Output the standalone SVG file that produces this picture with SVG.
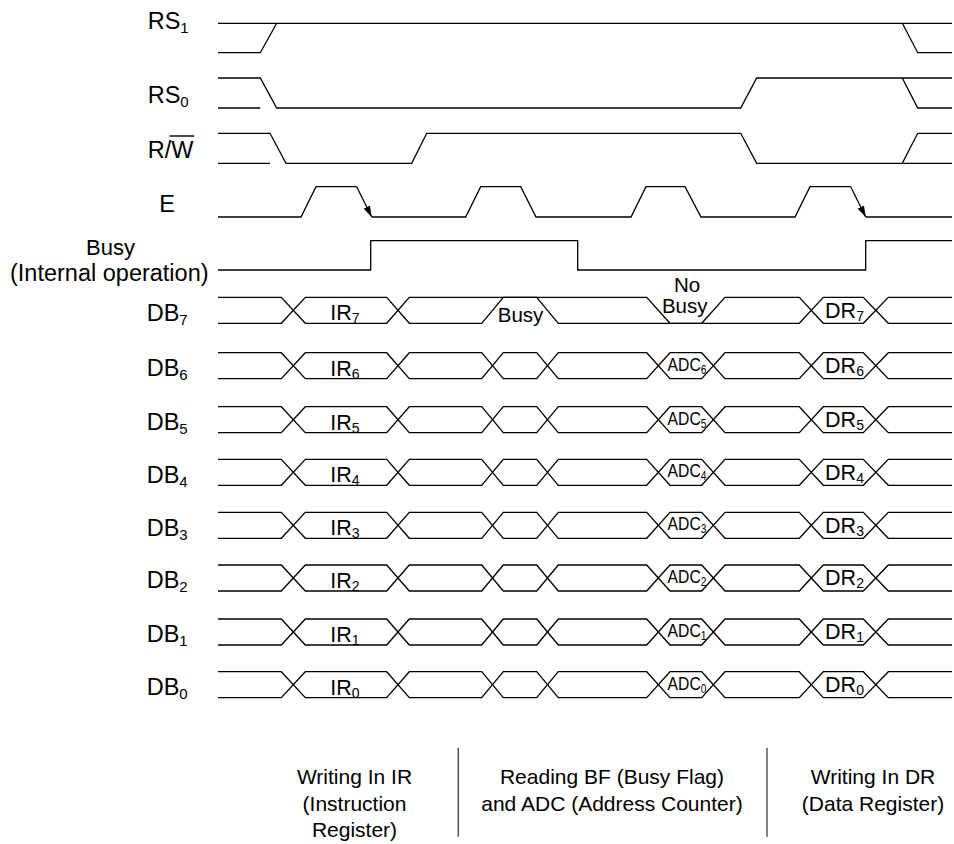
<svg xmlns="http://www.w3.org/2000/svg" xmlns:xlink="http://www.w3.org/1999/xlink" width="954" height="844" viewBox="0 0 954 844">
<style>
.w{fill:none;stroke:#000;stroke-width:1.3;stroke-linejoin:miter}
.lbl{font-family:"Liberation Sans",Arial,sans-serif;font-size:23.5px;fill:#000}
.sub{font-size:15px}
.in{font-family:"Liberation Sans",Arial,sans-serif;font-size:21.5px;fill:#000;text-anchor:middle}
.isub{font-size:14px}
.adc{font-family:"Liberation Sans",Arial,sans-serif;font-size:18.5px;fill:#000;text-anchor:middle}
.bt{font-family:"Liberation Sans",Arial,sans-serif;font-size:21px;fill:#000;text-anchor:middle}
.div{stroke:#555;stroke-width:1.5}
</style>
<defs>
<marker id="arr" viewBox="0 0 11 7" refX="11" refY="3.5" markerWidth="11" markerHeight="7" markerUnits="userSpaceOnUse" orient="auto" preserveAspectRatio="none">
<path d="M0,0 L11,3.5 L0,7 z" fill="#000"/>
</marker>
<g id="dbwave">
<path class="w" d="M218,0 H281.3 L305.3,26 H386.7 L409.3,0 H481.7 L503.3,26 H536.7 L558.3,0 H646.7 L670,26 H701.7 L725,0 H799.3 L823.3,26 H863.3 L888.3,0 H952"/>
<path class="w" d="M218,26 H281.3 L305.3,0 H386.7 L409.3,26 H481.7 L503.3,0 H536.7 L558.3,26 H646.7 L670,0 H701.7 L725,26 H799.3 L823.3,0 H863.3 L888.3,26 H952"/>
</g>
</defs>
<rect width="954" height="844" fill="#fff"/>

<g id="labels">
<text class="lbl" x="147.7" y="29.3">RS<tspan class="sub" dy="4">1</tspan></text>
<text class="lbl" x="147.7" y="102.7">RS<tspan class="sub" dy="4">0</tspan></text>
<text class="lbl" x="147.7" y="157.7">R/W</text>
<line x1="169.5" y1="136" x2="194.3" y2="136" stroke="#000" stroke-width="1.4"/>
<text class="lbl" x="159.3" y="211.7">E</text>
<text class="lbl" x="86" y="254.5" style="font-size:22px">Busy</text>
<text class="lbl" x="10" y="281">(Internal operation)</text>
<text class="lbl" x="146.7" y="320.7">DB<tspan class="sub" dy="4">7</tspan></text>
<text class="lbl" x="146.7" y="376.1">DB<tspan class="sub" dy="4">6</tspan></text>
<text class="lbl" x="146.7" y="430.1">DB<tspan class="sub" dy="4">5</tspan></text>
<text class="lbl" x="146.7" y="482.7">DB<tspan class="sub" dy="4">4</tspan></text>
<text class="lbl" x="146.7" y="535.7">DB<tspan class="sub" dy="4">3</tspan></text>
<text class="lbl" x="146.7" y="588.4">DB<tspan class="sub" dy="4">2</tspan></text>
<text class="lbl" x="146.7" y="642.4">DB<tspan class="sub" dy="4">1</tspan></text>
<text class="lbl" x="146.7" y="695.1">DB<tspan class="sub" dy="4">0</tspan></text>
</g>

<g id="waveforms">
<g id="rs1">
<path class="w" d="M218,23.3 H952"/>
<path class="w" d="M218,52.7 H260.3 L276.7,23.3"/>
<path class="w" d="M902.3,23.3 L917.7,52.7 H952"/>
</g>
<g id="rs0">
<path class="w" d="M218,78 H260.3 L276.7,108 H740.7 L756.7,78 H952"/>
<path class="w" d="M218,108 H260.3"/>
<path class="w" d="M902.3,78 L917.7,108 H952"/>
</g>
<g id="rw">
<path class="w" d="M218,133.3 H270 L286,163.3 H411.7 L426.7,133.3 H740.7 L756.7,163.3 H902.3 L917.7,133.3 H952"/>
<path class="w" d="M218,163.3 H270"/>
<path class="w" d="M902.3,163.3 H952"/>
</g>
<g id="e">
<path class="w" d="M218,217 H301 L316,186.7 H356.7"/>
<path class="w" d="M356.7,186.7 L371.7,217" marker-end="url(#arr)"/>
<path class="w" d="M371.7,217 H465.7 L480.7,186.7 H520.7 L536,217 H631 L646,186.7 H685 L701,217 H795 L810,186.7 H850.7"/>
<path class="w" d="M850.7,186.7 L865.7,217" marker-end="url(#arr)"/>
<path class="w" d="M865.7,217 H952"/>
</g>
<g id="busy">
<path class="w" d="M218,270 H370.7 V240.7 H577.7 V270 H865.7 V240.7 H952"/>
</g>
<g id="db7">
<path class="w" d="M218,297.3 H281.3 L305.3,323.3 H386.7 L409.3,297.3 H536.7 L558.3,323.3 H701.7 L725,297.3 H799.3 L823.3,323.3 H863.3 L888.3,297.3 H952"/>
<path class="w" d="M218,323.3 H281.3 L305.3,297.3 H386.7 L409.3,323.3 H481.7 L503.3,297.3 H646.7 L670,323.3 H799.3 L823.3,297.3 H863.3 L888.3,323.3 H952"/>
<text class="in" x="345" y="320.3">IR<tspan class="isub" dy="3">7</tspan></text>
<text class="in" x="520.5" y="321.7" style="font-size:20.5px">Busy</text>
<text class="in" x="687" y="291.7" style="font-size:20.5px">No</text>
<text class="in" x="684.7" y="312.7" style="font-size:20.5px">Busy</text>
<text class="in" x="844.5" y="317.5">DR<tspan class="isub" dy="3">7</tspan></text>
</g>
<g id="db6">
<use xlink:href="#dbwave" y="352.7"/>
<text class="in" x="345" y="375.7">IR<tspan class="isub" dy="3">6</tspan></text>
<text class="adc" transform="translate(687,370.5) scale(0.85,1)">ADC<tspan style="font-size:12px" dy="3">6</tspan></text>
<text class="in" x="844.5" y="372.9">DR<tspan class="isub" dy="3">6</tspan></text>
</g>
<g id="db5">
<use xlink:href="#dbwave" y="406.7"/>
<text class="in" x="345" y="429.7">IR<tspan class="isub" dy="3">5</tspan></text>
<text class="adc" transform="translate(687,424.5) scale(0.85,1)">ADC<tspan style="font-size:12px" dy="3">5</tspan></text>
<text class="in" x="844.5" y="426.9">DR<tspan class="isub" dy="3">5</tspan></text>
</g>
<g id="db4">
<use xlink:href="#dbwave" y="459.3"/>
<text class="in" x="345" y="482.3">IR<tspan class="isub" dy="3">4</tspan></text>
<text class="adc" transform="translate(687,477.1) scale(0.85,1)">ADC<tspan style="font-size:12px" dy="3">4</tspan></text>
<text class="in" x="844.5" y="479.5">DR<tspan class="isub" dy="3">4</tspan></text>
</g>
<g id="db3">
<use xlink:href="#dbwave" y="512.3"/>
<text class="in" x="345" y="535.3">IR<tspan class="isub" dy="3">3</tspan></text>
<text class="adc" transform="translate(687,530.1) scale(0.85,1)">ADC<tspan style="font-size:12px" dy="3">3</tspan></text>
<text class="in" x="844.5" y="532.5">DR<tspan class="isub" dy="3">3</tspan></text>
</g>
<g id="db2">
<use xlink:href="#dbwave" y="565"/>
<text class="in" x="345" y="588">IR<tspan class="isub" dy="3">2</tspan></text>
<text class="adc" transform="translate(687,582.8) scale(0.85,1)">ADC<tspan style="font-size:12px" dy="3">2</tspan></text>
<text class="in" x="844.5" y="585.2">DR<tspan class="isub" dy="3">2</tspan></text>
</g>
<g id="db1">
<use xlink:href="#dbwave" y="619"/>
<text class="in" x="345" y="642">IR<tspan class="isub" dy="3">1</tspan></text>
<text class="adc" transform="translate(687,636.8) scale(0.85,1)">ADC<tspan style="font-size:12px" dy="3">1</tspan></text>
<text class="in" x="844.5" y="639.2">DR<tspan class="isub" dy="3">1</tspan></text>
</g>
<g id="db0">
<use xlink:href="#dbwave" y="671.7"/>
<text class="in" x="345" y="694.7">IR<tspan class="isub" dy="3">0</tspan></text>
<text class="adc" transform="translate(687,689.5) scale(0.85,1)">ADC<tspan style="font-size:12px" dy="3">0</tspan></text>
<text class="in" x="844.5" y="691.9">DR<tspan class="isub" dy="3">0</tspan></text>
</g>
</g>

<g id="phases">
<line class="div" x1="458.3" y1="747.7" x2="458.3" y2="836.7"/>
<line class="div" x1="767" y1="747.7" x2="767" y2="836.7"/>
<text class="bt" x="354.5" y="784">Writing In IR</text>
<text class="bt" x="354.5" y="810.5">(Instruction</text>
<text class="bt" x="354.5" y="837">Register)</text>
<text class="bt" x="612" y="784">Reading BF (Busy Flag)</text>
<text class="bt" x="612" y="810.5">and ADC (Address Counter)</text>
<text class="bt" x="873" y="784">Writing In DR</text>
<text class="bt" x="873" y="810.5">(Data Register)</text>
</g>
</svg>
